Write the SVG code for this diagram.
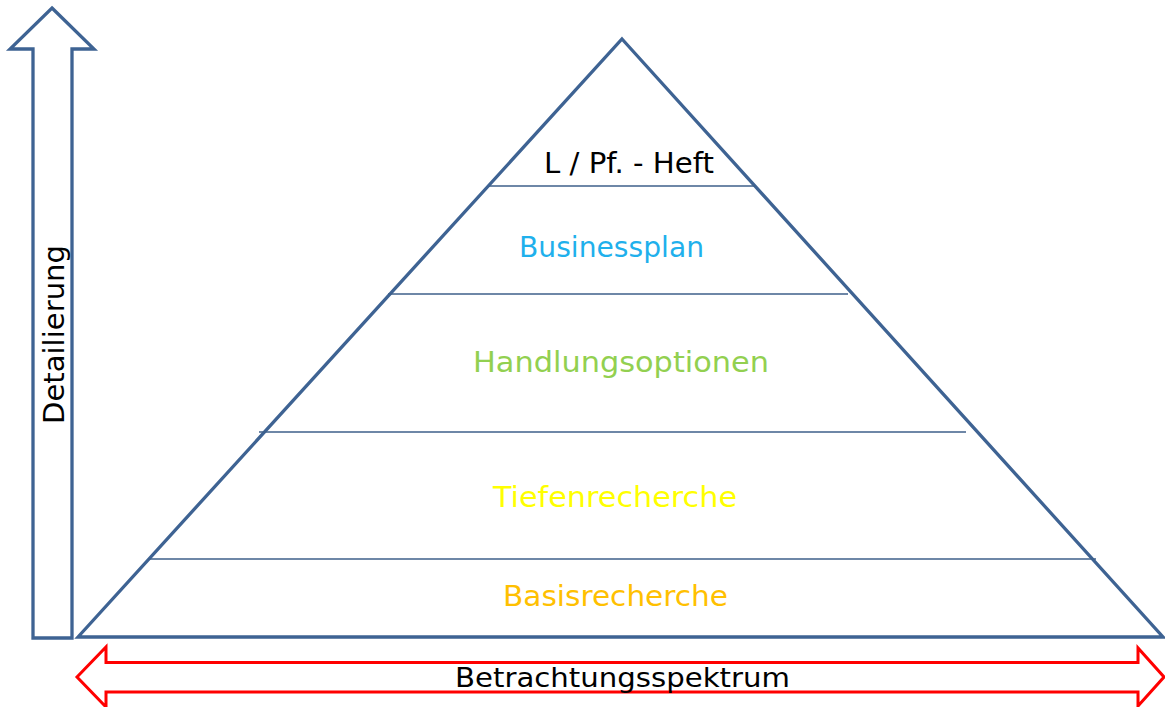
<svg xmlns="http://www.w3.org/2000/svg" width="1165" height="707" viewBox="0 0 1165 707">
<style>
.outline{fill:#fff;stroke:#3e6393;stroke-width:3.3;stroke-linejoin:miter}
.div{stroke:#3e5f8a;stroke-width:1.3;fill:none}
.lbl{font-family:"DejaVu Sans","Liberation Sans",sans-serif;font-size:29px;text-anchor:middle}
</style>
<rect width="1165" height="707" fill="#fff"/>
<g id="detail-arrow">
<polygon class="outline" points="52,8 94,49 72,49 72,638 33,638 33,49 10,49"/>
<text class="lbl" transform="translate(64,334.5) rotate(-90)" x="0" y="0" textLength="179" lengthAdjust="spacingAndGlyphs" fill="#000">Detailierung</text>
</g>
<g id="pyramid">
<polygon class="outline" points="622,39 1163,637 78,637"/>
</g>
<g id="connectors">
<line class="div" x1="489" y1="186" x2="755" y2="186"/>
<line class="div" x1="388" y1="294" x2="848" y2="294"/>
<line class="div" x1="259" y1="432" x2="966" y2="432"/>
<line class="div" x1="148" y1="559" x2="1096" y2="559"/>
</g>
<g id="level-heft"><text class="lbl" x="629" y="173" textLength="170" lengthAdjust="spacingAndGlyphs" fill="#000">L / Pf. - Heft</text></g>
<g id="level-businessplan"><text class="lbl" x="611.5" y="257" textLength="185" lengthAdjust="spacingAndGlyphs" fill="#1fb0ec">Businessplan</text></g>
<g id="level-handlung"><text class="lbl" x="621" y="372" textLength="296" lengthAdjust="spacingAndGlyphs" fill="#92d050">Handlungsoptionen</text></g>
<g id="level-tiefen"><text class="lbl" x="615" y="507" textLength="244" lengthAdjust="spacingAndGlyphs" fill="#ffff00">Tiefenrecherche</text></g>
<g id="level-basis"><text class="lbl" x="615.5" y="606" textLength="225" lengthAdjust="spacingAndGlyphs" fill="#ffc000">Basisrecherche</text></g>
<g id="spectrum-arrow">
<polygon points="77,677 106,647 106,662.5 1138,662.5 1138,648 1164,677 1138,706 1138,692 106,692 106,707" fill="#fff" stroke="#ff0000" stroke-width="3"/>
<text class="lbl" x="622.5" y="687" textLength="335" lengthAdjust="spacingAndGlyphs" fill="#000" style="font-size:27px">Betrachtungsspektrum</text>
</g>
</svg>
